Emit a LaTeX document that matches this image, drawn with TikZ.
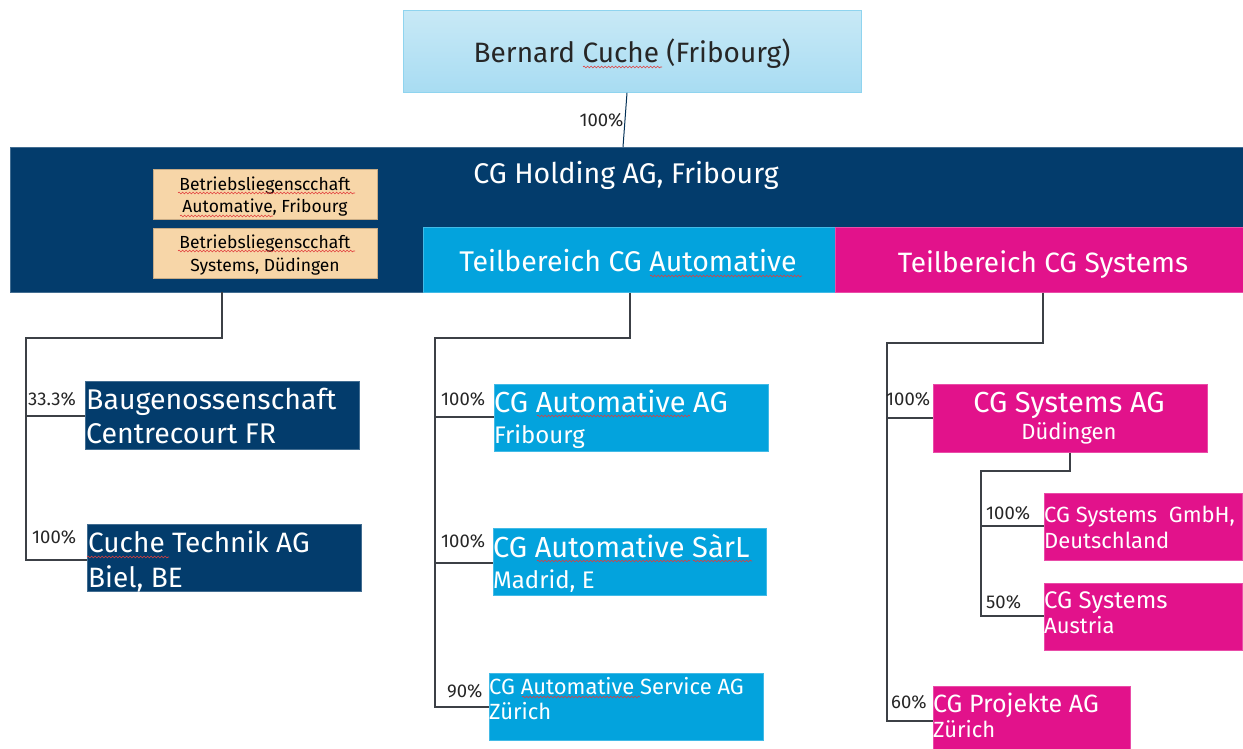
\documentclass[tikz,border=0pt]{standalone}
\usepackage{fontspec}
\setmainfont{Fira Sans}
\usetikzlibrary{decorations.pathmorphing}
\begin{document}
\definecolor{dblue}{RGB}{3,60,108}
\definecolor{cyanb}{RGB}{3,163,221}
\definecolor{magb}{RGB}{226,18,139}
\definecolor{beige}{RGB}{247,214,168}
\definecolor{ltop}{RGB}{200,233,246}
\definecolor{lbot}{RGB}{168,220,242}
\definecolor{lborder}{RGB}{143,212,239}
\definecolor{linec}{RGB}{60,64,70}
\definecolor{squig}{RGB}{225,60,60}
\newcommand{\fs}[1]{\fontsize{#1}{#1}\selectfont}
\begin{tikzpicture}[x=1pt,y=-1pt,
  box/.style={draw=#1!75!white, fill=#1, line width=0.6pt, inner sep=0pt, anchor=north west},
  wtxt/.style={text=white, inner sep=0pt},
  btxt/.style={text=black, inner sep=0pt},
  pct/.style={text=black!85, inner sep=0pt, anchor=base west, font=\fs{18.5}},
  conn/.style={draw=linec, line width=1.2pt},
  spell/.style={draw=squig, line width=0.6pt, decorate, decoration={snake, amplitude=0.9pt, segment length=3.5pt}}]
\useasboundingbox (0,0) rectangle (1243,749);

% top owner
\node[anchor=north west, minimum width=458, minimum height=82, inner sep=0pt, draw=lborder, line width=0.8pt, top color=ltop, bottom color=lbot] (owner) at (403,10) {};
\node[btxt, anchor=base, font=\fs{28}, text=black!85] (ownert) at (632,63) {Bernard Cuche (Fribourg)};

% holding band
\node[box=dblue, minimum width=1233, minimum height=145] (hold) at (10,147) {};
\node[wtxt, anchor=base, font=\fs{28.5}] (holdt) at (626,183) {CG Holding AG, Fribourg};

% beige boxes
\node[box=beige, draw=beige!80!black, minimum width=224, minimum height=50] (be1) at (153,169) {};
\node[btxt, anchor=base, font=\fs{17.5}] (be1a) at (265,190) {Betriebsliegenscchaft};
\node[btxt, anchor=base, font=\fs{17.5}] (be1b) at (265,212) {Automative, Fribourg};
\node[box=beige, draw=beige!80!black, minimum width=224, minimum height=50] (be2) at (153,228) {};
\node[btxt, anchor=base, font=\fs{17.5}] (be2a) at (265,248) {Betriebsliegenscchaft};
\node[btxt, anchor=base, font=\fs{17.5}] (be2b) at (265,271) {Systems, Düdingen};

% Teilbereiche
\node[box=cyanb, minimum width=412, minimum height=65] (tauto) at (423,227) {};
\node[wtxt, anchor=base, font=\fs{28.5}] (tautot) at (628,271) {Teilbereich CG Automative};
\node[box=magb, minimum width=408, minimum height=65] (tsys) at (835,227) {};
\node[wtxt, anchor=base, font=\fs{28}] (tsyst) at (1043,272) {Teilbereich CG Systems};

% connector owner -> holding
\coordinate (hold top) at (623,147);
\draw[draw=dblue!80!black, line width=1pt] (owner.south -| 627,0) -- (hold top) node[pos=0.5, pct, anchor=east, inner sep=1pt] (p0) {100\%};

% left branch
\node[box=dblue, minimum width=274, minimum height=68] (baug) at (85,381) {};
\node[wtxt, anchor=base west, font=\fs{28.5}] (baug1) at (86,409) {Baugenossenschaft};
\node[wtxt, anchor=base west, font=\fs{28.5}] (baug2) at (86,443) {Centrecourt FR};
\node[box=dblue, minimum width=274, minimum height=67] (cuche) at (87,524) {};
\node[wtxt, anchor=base west, font=\fs{28}] (cuche1) at (88,552) {Cuche Technik AG};
\node[wtxt, anchor=base west, font=\fs{28}] (cuche2) at (88,587) {Biel, BE};
\coordinate (lt) at (222,292);
\coordinate (lc) at (222,338);
\coordinate (lv) at (26,338);
\draw[conn] (lt) -- (lc) -- (lv) |- (cuche.west |- 0,560);
\draw[conn] (lv) |- (baug.west |- 0,416);
\node[pct] (p1) at (28,405) {33.3\%};
\node[pct] (p2) at (32,543) {100\%};

% middle branch
\node[box=cyanb, minimum width=274, minimum height=67] (aag) at (494,384) {};
\node[wtxt, anchor=base west, font=\fs{29}] (aag1) at (494,412) {CG Automative AG};
\node[wtxt, anchor=base west, font=\fs{24}] (aag2) at (494,443) {Fribourg};
\node[box=cyanb, minimum width=273, minimum height=67] (asarl) at (493,528) {};
\node[wtxt, anchor=base west, font=\fs{29}] (asarl1) at (493,557) {CG Automative SàrL};
\node[wtxt, anchor=base west, font=\fs{24}] (asarl2) at (493,588) {Madrid, E};
\node[box=cyanb, minimum width=274, minimum height=67] (aserv) at (489,673) {};
\node[wtxt, anchor=base west, font=\fs{22}] (aserv1) at (489,694) {CG Automative Service AG};
\node[wtxt, anchor=base west, font=\fs{22}] (aserv2) at (489,719) {Zürich};
\coordinate (mc) at (630,338);
\coordinate (mv) at (435,338);
\draw[conn] (tauto.south -| mc) -- (mc) -- (mv) |- (aserv.west |- 0,707);
\draw[conn] (mv) |- (aag.west |- 0,417);
\draw[conn] (mv) |- (asarl.west |- 0,563);
\node[pct] (p3) at (441,405) {100\%};
\node[pct] (p4) at (441,547) {100\%};
\node[pct] (p5) at (447,697) {90\%};

% right branch
\node[box=magb, minimum width=274, minimum height=68] (sag) at (933,384) {};
\node[wtxt, anchor=base, font=\fs{29}] (sag1) at (1069,412) {CG Systems AG};
\node[wtxt, anchor=base, font=\fs{22}] (sag2) at (1069,439) {Düdingen};
\node[box=magb, minimum width=198, minimum height=67] (sgmbh) at (1044,493) {};
\node[wtxt, anchor=base west, font=\fs{22}] (sgmbh1) at (1044,522) {CG Systems\ \ GmbH,};
\node[wtxt, anchor=base west, font=\fs{22}] (sgmbh2) at (1044,548) {Deutschland};
\node[box=magb, minimum width=198, minimum height=67] (saus) at (1044,583) {};
\node[wtxt, anchor=base west, font=\fs{24}] (saus1) at (1044,608) {CG Systems};
\node[wtxt, anchor=base west, font=\fs{22}] (saus2) at (1044,633) {Austria};
\node[box=magb, minimum width=197, minimum height=70] (sproj) at (933,686) {};
\node[wtxt, anchor=base west, font=\fs{25}] (sproj1) at (933,712) {CG Projekte AG};
\node[wtxt, anchor=base west, font=\fs{22}] (sproj2) at (933,737) {Zürich};
\coordinate (rc) at (1043,343);
\coordinate (rv) at (887,343);
\draw[conn] (tsys.south -| rc) -- (rc) -- (rv) |- (sproj.west |- 0,721);
\draw[conn] (rv) |- (sag.west |- 0,418);
\node[pct] (p6) at (886,405) {100\%};
\node[pct] (p9) at (891,708) {60\%};
\coordinate (sc) at (1070,471);
\coordinate (sv) at (981,471);
\draw[conn] (sag.south -| sc) -- (sc) -- (sv) |- (saus.west |- 0,616);
\draw[conn] (sv) |- (sgmbh.west |- 0,526);
\node[pct] (p7) at (986,519) {100\%};
\node[pct] (p8) at (986,608) {50\%};

% spell-check underlines
\draw[spell] (583,67) -- (662,67);
\draw[spell] (178,193) -- (355,193);
\draw[spell] (180,216) -- (273,216);
\draw[spell] (178,251) -- (355,251);
\draw[spell] (650,276) -- (802,276);
\draw[spell] (87,557) -- (169,557);
\draw[spell] (537,416) -- (690,416);
\draw[spell] (537,561) -- (690,561);
\draw[spell] (693,561) -- (752,561);
\draw[spell] (522,697) -- (640,697);
\end{tikzpicture}
\end{document}
